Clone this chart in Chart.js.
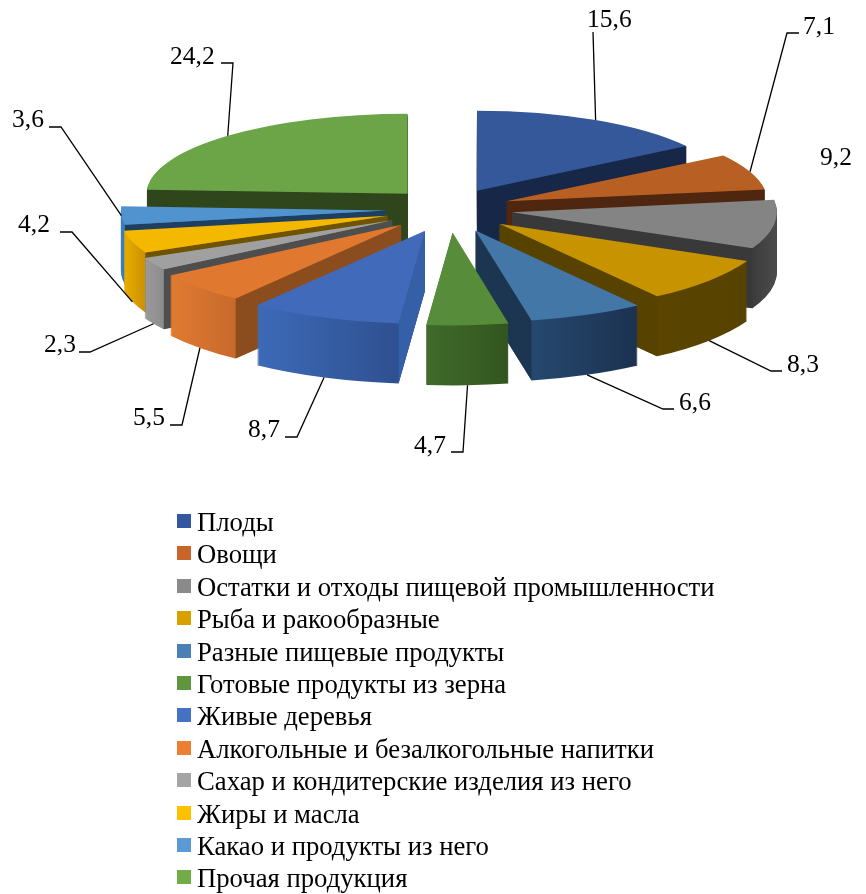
<!DOCTYPE html>
<html>
<head>
<meta charset="utf-8">
<style>
  html, body { margin: 0; padding: 0; background: #fff; }
  canvas { display: block; }
</style>
<script src="https://cdn.jsdelivr.net/npm/chart.js@4"></script>
</head>
<body>
<canvas id="c" width="866" height="894"></canvas>
<script>
// data
const categories = ['Плоды', 'Овощи', 'Остатки и отходы пищевой промышленности', 'Рыба и ракообразные',
  'Разные пищевые продукты', 'Готовые продукты из зерна', 'Живые деревья', 'Алкогольные и безалкогольные напитки',
  'Сахар и кондитерские изделия из него', 'Жиры и масла', 'Какао и продукты из него', 'Прочая продукция'];
const values = [15.6, 7.1, 9.2, 8.3, 6.6, 4.7, 8.7, 5.5, 2.3, 4.2, 3.6, 24.2];

// colours
const topColors = ['#34589A', '#B86024', '#848484', '#C79400', '#4377A8', '#578C3A', '#416BBA', '#E07830', '#A0A0A0', '#F4B800', '#5193CE', '#6BA548'];
const legendColors = ['#3358A0', '#C8652A', '#8A8A8A', '#D8A000', '#4A80B4', '#5F9640', '#4472C4', '#ED7D31', '#A5A5A5', '#FFC000', '#5B9BD5', '#70AD47'];
const sideColors = ['#172747', '#4F2710', '#393939', '#574200', '#1C3550', '#33551F', '#3560A8', '#8B4D1E', '#4E4E4E', '#6E5300', '#1F3F60', '#2F451C'];
const wallFrom = ['#172747', '#4F2710', '#3C3C3C', '#5A4400', '#26486F', '#3F6B2C', '#3C6AB8', '#E07A30', '#9A9A9A', '#E8AE00', '#3E80C0', '#2F451C'];
const wallTo = ['#172747', '#4F2710', '#4A4A4A', '#574200', '#1B3250', '#33551F', '#2F5090', '#C86A2C', '#8C8C8C', '#CC9000', '#3A78B4', '#2F451C'];

// 3d look: nearer slices are larger, so each slice has its own ellipse radii
const tilt = 0.35, depth = 60;
const sliceRx = [252, 261, 265, 273, 281, 280, 281, 277, 274, 268, 265, 261];
const sliceRy = [80, 82, 86, 89, 92, 93, 93, 92, 89, 86, 82, 80];
const explode = m => 63 + 4 * Math.sin(m);

// label baseline [x, y] (left edge of text) and leader elbow + end; null = no leader
const labelPos = [[587, 27], [803, 34], [820, 165], [787, 372], [679, 410], [414, 453], [248, 437], [133, 425], [44, 352], [18, 232], [12, 127], [170, 64]];
const leaderEnd = [[[593, 32]], [[787, 33], [799, 33]], null, [[771, 371], [782, 371]], [[663, 409], [674, 409]], [[463, 452], [451, 452]],
  [[297, 437], [285, 437]], [[182, 425], [170, 425]], [[90, 352], [79, 352]], [[72, 232], [60, 232]], [[61, 127], [49, 127]], [[233, 63], [221, 63]]];

const serif = '"Liberation Serif", "Times New Roman", serif';

function geom(arc, i) {
  const m = (arc.startAngle + arc.endAngle) / 2;
  const e = explode(m);
  return {
    m,
    tx: arc.x + e * Math.cos(m),
    ty: arc.y + e * tilt * Math.sin(m),
    rx: sliceRx[i],
    ry: sliceRy[i]
  };
}

// draws the library arc with the slice's squash and explosion on the ctx
function drawArc(ctx, arc, g, dy, fill) {
  const opts = arc.options;
  ctx.save();
  ctx.translate(g.tx, g.ty + dy);
  ctx.scale(g.rx / arc.outerRadius, g.ry / arc.outerRadius);
  ctx.translate(-arc.x, -arc.y);
  arc.options = Object.assign({}, opts, { backgroundColor: fill });
  arc.draw(ctx);
  arc.options = opts;
  ctx.restore();
}

function sideFace(ctx, g, a, color) {
  const px = g.tx + g.rx * Math.cos(a), py = g.ty + g.ry * Math.sin(a);
  ctx.fillStyle = color;
  ctx.beginPath();
  ctx.moveTo(g.tx, g.ty);
  ctx.lineTo(px, py);
  ctx.lineTo(px, py + depth);
  ctx.lineTo(g.tx, g.ty + depth);
  ctx.closePath();
  ctx.fill();
}

const pie3d = {
  id: 'pie3d',
  beforeDatasetsDraw(chart) {
    const { ctx } = chart;
    const arcs = chart.getDatasetMeta(0).data;
    const order = arcs.map((a, i) => i).sort((p, q) => {
      return geom(arcs[p], p).ty - geom(arcs[q], q).ty;
    });
    order.forEach(i => {
      const arc = arcs[i], g = geom(arc, i), R = arc.outerRadius;
      const xa = arc.x + R * Math.cos(arc.startAngle), xb = arc.x + R * Math.cos(arc.endAngle);
      const grad = ctx.createLinearGradient(Math.min(xa, xb), 0, Math.max(xa, xb) + 0.01, 0);
      grad.addColorStop(0, wallFrom[i]);
      grad.addColorStop(1, wallTo[i]);
      for (let d = depth; d > 0; d--) drawArc(ctx, arc, g, d, grad);
      if (Math.cos(arc.startAngle) < -0.001) sideFace(ctx, g, arc.startAngle, sideColors[i]);
      if (Math.cos(arc.endAngle) > 0.001) sideFace(ctx, g, arc.endAngle, sideColors[i]);
      drawArc(ctx, arc, g, 0, topColors[i]);
    });
    return false;
  },
  afterDraw(chart) {
    const { ctx } = chart;
    const arcs = chart.getDatasetMeta(0).data;
    ctx.save();
    ctx.textAlign = 'left';
    ctx.textBaseline = 'alphabetic';
    ctx.font = '25.5px ' + serif;
    arcs.forEach((arc, i) => {
      ctx.fillStyle = '#000';
      ctx.fillText(values[i].toFixed(1).replace('.', ','), labelPos[i][0], labelPos[i][1]);
      if (!leaderEnd[i]) return;
      const g = geom(arc, i);
      const wall = Math.sin(g.m) > 0.1 ? depth : 0;
      ctx.strokeStyle = '#000';
      ctx.lineWidth = 1.3;
      ctx.beginPath();
      ctx.moveTo(g.tx + g.rx * Math.cos(g.m), g.ty + g.ry * Math.sin(g.m) + wall);
      leaderEnd[i].forEach(p => ctx.lineTo(p[0], p[1]));
      ctx.stroke();
    });
    // legend
    ctx.font = '26.7px ' + serif;
    categories.forEach((name, i) => {
      const y = 514 + i * 32.4;
      ctx.fillStyle = legendColors[i];
      ctx.fillRect(177, Math.round(y), 14, 14);
      ctx.fillStyle = '#000';
      ctx.fillText(name, 197, y + 17);
    });
    ctx.restore();
  }
};

new Chart(document.getElementById('c'), {
  type: 'pie',
  data: {
    labels: categories,
    datasets: [{ data: values, backgroundColor: topColors, borderWidth: 0 }]
  },
  options: {
    responsive: false,
    animation: false,
    radius: 200,
    layout: { padding: { left: 32, bottom: 476 } },
    plugins: { legend: { display: false }, tooltip: { enabled: false } }
  },
  plugins: [pie3d]
});
</script>
</body>
</html>
